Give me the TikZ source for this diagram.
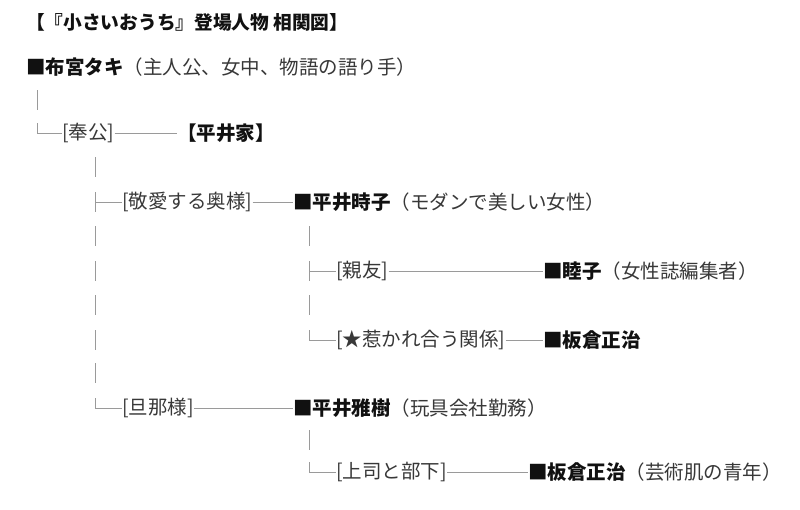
\documentclass[tikz,border=0pt]{standalone}
\usepackage{fontspec}
\setmainfont{Noto Sans CJK JP}
\definecolor{txtgray}{HTML}{383838}
\definecolor{nameblack}{HTML}{111111}
\definecolor{linegray}{HTML}{9A9A9A}
\newcommand\pname[1]{{\bfseries\color{nameblack}#1}}
\begin{document}
\begin{tikzpicture}[x=1pt,y=-1pt,
  txt/.style={anchor=west,inner sep=0pt,font=\fontsize{19.5}{22}\selectfont,text=txtgray},
  ttl/.style={anchor=west,inner sep=0pt,font=\fontsize{18.7}{21}\selectfont\bfseries,text=nameblack},
  ln/.style={draw=linegray,line width=0.9pt}]
\useasboundingbox[fill=white] (0,0) rectangle (800,509);

% texts
\node[ttl] (title) at (26,22) {【『小さいおうち』登場人物 相関図】};
\node[txt] (taki) at (26,67) {\pname{■布宮タキ}（主人公、女中、物語の語り手）};
\node[txt] (hoko) at (62,133) {[奉公]};
\node[txt] (hirai) at (177,133) {\pname{【平井家】}};
\node[txt] (keiai) at (122,202) {[敬愛する奥様]};
\node[txt] (tokiko) at (293,202) {\pname{■平井時子}（モダンで美しい女性）};
\node[txt] (shinyu) at (336,271) {[親友]};
\node[txt] (mutsuko) at (543,271) {\pname{■睦子}（女性誌編集者）};
\node[txt] (hikare) at (336,340) {[★惹かれ合う関係]};
\node[txt] (itakura1) at (543,340) {\pname{■板倉正治}};
\node[txt] (danna) at (122,408) {[旦那様]};
\node[txt] (masaki) at (293,408) {\pname{■平井雅樹}（玩具会社勤務）};
\node[txt] (joshi) at (336,472) {[上司と部下]};
\node[txt] (itakura2) at (528,472) {\pname{■板倉正治}（芸術肌の青年）};

% horizontal connectors between labels and persons
\draw[ln] (hoko.east) -- (hirai.west);
\draw[ln] (keiai.east) -- (tokiko.west);
\draw[ln] (shinyu.east) -- (mutsuko.west);
\draw[ln] (hikare.east) -- (itakura1.west);
\draw[ln] (danna.east) -- (masaki.west);
\draw[ln] (joshi.east) -- (itakura2.west);

% level 1 (x=37)
\draw[ln] (37,90) -- (37,110);
\draw[ln] (37,123) |- (hoko.west);

% level 2 (x=95)
\foreach \yy in {167,236,271,305,340,373}
  \draw[ln] (95,\yy-10) -- (95,\yy+10);
\draw[ln] (95,192) -- (95,212);
\draw[ln] (95,202) -- (keiai.west);
\draw[ln] (95,398) |- (danna.west);

% level 3 (x=309)
\foreach \yy in {236,305,440}
  \draw[ln] (309,\yy-10) -- (309,\yy+10);
\draw[ln] (309,261) -- (309,281);
\draw[ln] (309,271) -- (shinyu.west);
\draw[ln] (309,330) |- (hikare.west);
\draw[ln] (309,462) |- (joshi.west);
\end{tikzpicture}
\end{document}
